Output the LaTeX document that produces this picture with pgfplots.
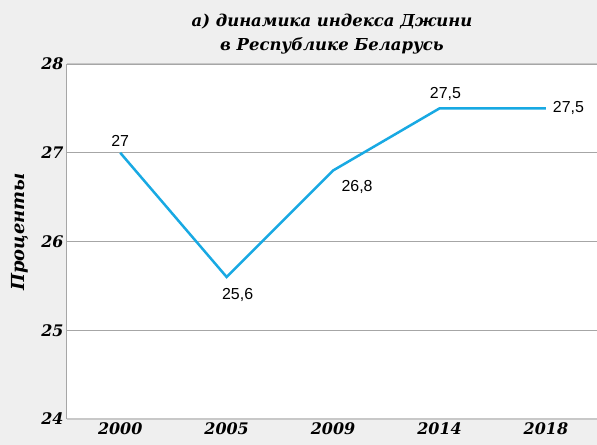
\documentclass[border=0pt]{standalone}
\usepackage{fontspec}
\setmainfont{DejaVu Serif}
\newfontfamily\lsans{Liberation Sans}
\usepackage{pgfplots}
\pgfplotsset{compat=1.18}
\usepackage{pgfplotstable}
\definecolor{bgc}{HTML}{EFEFEF}
\definecolor{linec}{HTML}{18A9E3}
\definecolor{gridc}{HTML}{A6A6A6}
\definecolor{axc}{HTML}{C8C8C8}

\pgfplotstableread{
x y lab dx dy
0 27 27 0 11.5
1 25.6 {25,6} 11 -18
2 26.8 {26,8} 24 -16
3 27.5 {27,5} 6 14
4 27.5 {27,5} 22.5 0
}\gini

\begin{document}
\begin{tikzpicture}
\fill[bgc] (-67bp,-26bp) rectangle (530bp,419bp);
\path[use as bounding box] (-67bp,-26bp) rectangle (530bp,419bp);
\begin{axis}[
  at={(0,0)}, anchor=south west,
  scale only axis, width=530bp, height=355bp,
  xmin=-0.5, xmax=4.48, ymin=24, ymax=28,
  xtick={0,1,2,3,4}, xticklabels={2000,2005,2009,2014,2018},
  ytick={24,25,26,27,28}, yticklabels={24,25,26,27,28},
  axis background/.style={fill=white},
  ymajorgrids, grid style={gridc, line width=0.8bp},
  major tick length=0pt,
  axis line style={draw=none},
  tick label style={font=\fontsize{16}{16}\selectfont\bfseries\itshape},
  title={а) динамика индекса Джини\\в Республике Беларусь},
  title style={align=center, font=\fontsize{16.5}{24}\selectfont\bfseries\itshape,
    at={(axis description cs:0.5,1)}, anchor=south, yshift=0bp},
  ylabel={Проценты},
  ylabel style={font=\fontsize{18}{18}\selectfont\bfseries\itshape,
    at={(axis description cs:-0.0887,0.527)}, anchor=center},
  clip=false,
]
\addplot[linec, line width=2.5bp, no markers,
  nodes near coords, point meta=explicit symbolic,
  visualization depends on={\thisrow{dx} \as \myDX},
  visualization depends on={\thisrow{dy} \as \myDY},
  every node near coord/.append style={anchor=center, xshift=\myDX bp, yshift=\myDY bp,
    font=\lsans\fontsize{16}{16}\selectfont, text=black},
] table[x=x, y=y, meta=lab] {\gini};
\draw[gridc, line width=1bp] (axis description cs:0,0) -- (axis description cs:0,1);
\draw[axc, line width=1.5bp] (axis description cs:0,0) -- (axis description cs:1,0);
\draw[axc, line width=1bp] (axis description cs:0,1) -- (axis description cs:1,1);
\end{axis}
\end{tikzpicture}
\end{document}
